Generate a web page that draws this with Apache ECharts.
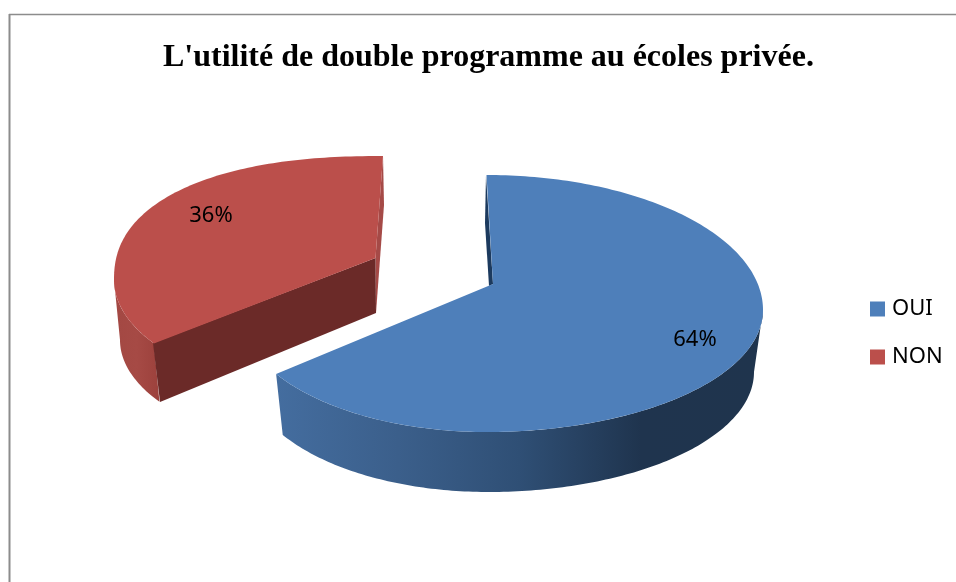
<!DOCTYPE html>
<html>
<head>
<meta charset="utf-8">
<title>double programme</title>
<script src="https://cdn.jsdelivr.net/npm/echarts@6/dist/echarts.min.js"></script>
<style>
  html, body { margin: 0; padding: 0; background: #fff; }
  #chart { width: 956px; height: 582px; }
</style>
</head>
<body>
<div id="chart"></div>
<script>
const titleText = "L'utilité de double programme au écoles privée.";
const categories = ['OUI', 'NON'];
const shares = [64, 36];

// shape of each 3D slice, the arcs themselves come from the shares
const sliceLayout = {
  OUI: {
    color: '#4e7fba',
    apex: [493, 284],
    rim: { cx: 486.5, cy: 310, right: 276.5, left: 247, top: 135, bottom: 122 },
    base: { cx: 488, cy: 372, right: 266, left: 241, top: 135, bottom: 120 },
    side: { from: 90, to: 'end', stops: ['#446d9f', '#3b5f8b', '#2f4f75', '#1f344e', '#1f344d'] },
    inner: [[486, 175], [485, 223], [489, 286], [493, 284]],
    innerColor: '#1c3a5e',
    label: [695, 340]
  },
  NON: {
    color: '#bb4f4b',
    apex: [375.5, 258],
    rim: { cx: 383, cy: 280, right: 269, left: 269, top: 124, bottom: 121, bulge: 2.3 },
    base: { cx: 386, cy: 340, right: 266, left: 266, top: 124, bottom: 118 },
    side: { from: 'start', to: 270, stops: ['#a34843', '#a64a45', '#9c413c'] },
    inner: [[383, 156], [384, 205], [376, 313], [375.5, 258]],
    innerColor: '#a54a47',
    front: [[375.5, 258], [153, 343], [160, 402], [376, 313]],
    frontColor: '#6b2a28',
    label: [211, 216]
  }
};

const total = shares.reduce((a, b) => a + b, 0);
const splitAngle = (shares[0] / total) * 360;
// perspective pushes the slice boundary round the rim a little
const splitRim = splitAngle + 8;

function rimAngle(deg) {
  if (deg <= splitAngle) return (deg * splitRim) / splitAngle;
  return splitRim + ((deg - splitAngle) * (360 - splitRim)) / (360 - splitAngle);
}

function rimPoint(rim, deg) {
  const t = (deg * Math.PI) / 180;
  const s = Math.sin(t);
  const c = Math.cos(t);
  const a = s >= 0 ? rim.right : rim.left;
  const b = c >= 0 ? rim.top : rim.bottom;
  const n = s < 0 && c > 0 && rim.bulge ? rim.bulge : 2;
  return [
    rim.cx + a * Math.sign(s) * Math.pow(Math.abs(s), 2 / n),
    rim.cy - b * Math.sign(c) * Math.pow(Math.abs(c), 2 / n)
  ];
}

function arcPoints(rim, from, to) {
  const pts = [];
  const steps = Math.ceil(Math.abs(to - from));
  for (let i = 0; i <= steps; i++) {
    pts.push(rimPoint(rim, from + ((to - from) * i) / steps));
  }
  return pts;
}

function poly(points, fill) {
  return { type: 'polygon', shape: { points: points }, style: { fill: fill }, silent: true };
}

function renderSlice(index, params, api) {
  const name = categories[index];
  const layout = sliceLayout[name];
  let before = 0;
  for (let i = 0; i < index; i++) before += shares[i];
  const start = rimAngle((before / total) * 360);
  const end = rimAngle(((before + api.value(0)) / total) * 360);

  const sideFrom = layout.side.from === 'start' ? start : layout.side.from;
  const sideTo = layout.side.to === 'end' ? end : layout.side.to;
  const sidePts = arcPoints(layout.rim, sideFrom, sideTo).concat(
    arcPoints(layout.base, sideTo, sideFrom)
  );
  const stops = layout.side.stops.map((c, i, all) => ({ offset: i / (all.length - 1), color: c }));

  const children = [
    poly(layout.inner, layout.innerColor),
    poly(sidePts, new echarts.graphic.LinearGradient(0, 0, 1, 0, stops))
  ];
  if (layout.front) children.push(poly(layout.front, layout.frontColor));
  children.push(poly([layout.apex].concat(arcPoints(layout.rim, start, end)), layout.color));
  children.push({
    type: 'text',
    silent: true,
    style: {
      text: api.value(0) + '%',
      x: layout.label[0],
      y: layout.label[1],
      align: 'center',
      verticalAlign: 'middle',
      fill: '#000',
      font: '22px "Noto Sans"'
    }
  });
  return { type: 'group', children: children };
}

// NON goes first so the blue slice stays on top
const drawOrder = [1, 0];

const myChart = echarts.init(document.getElementById('chart'), null, { renderer: 'canvas' });
myChart.setOption({
  animation: false,
  backgroundColor: '#fff',
  title: {
    text: titleText,
    left: 158,
    top: 37,
    textStyle: {
      fontFamily: 'Liberation Serif',
      fontWeight: 'bold',
      fontSize: 32,
      color: '#000'
    }
  },
  legend: {
    orient: 'vertical',
    left: 865,
    top: 293,
    itemWidth: 15,
    itemHeight: 15,
    itemGap: 26,
    itemStyle: { borderWidth: 0 },
    selectedMode: false,
    icon: 'rect',
    data: categories,
    textStyle: { fontFamily: 'Noto Sans', fontSize: 22, color: '#000', padding: [0, 0, 0, 2] }
  },
  graphic: [
    { type: 'line', silent: true, shape: { x1: 9, y1: 14.5, x2: 956, y2: 14.5 }, style: { stroke: '#8c8c8c', lineWidth: 1.5 } },
    { type: 'line', silent: true, shape: { x1: 9.5, y1: 14, x2: 9.5, y2: 582 }, style: { stroke: '#8c8c8c', lineWidth: 2 } }
  ],
  series: drawOrder.map(i => ({
    type: 'custom',
    name: categories[i],
    coordinateSystem: 'none',
    itemStyle: { color: sliceLayout[categories[i]].color },
    data: [[shares[i]]],
    renderItem: (params, api) => renderSlice(i, params, api)
  }))
});
</script>
</body>
</html>
